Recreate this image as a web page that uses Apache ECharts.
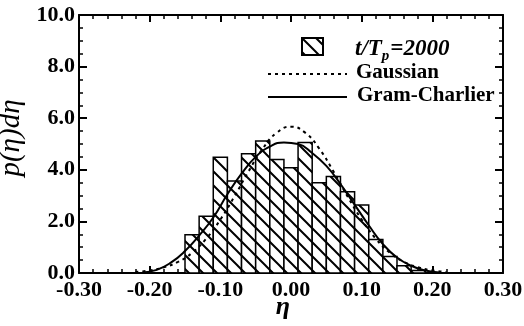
<!DOCTYPE html>
<html>
<head>
<meta charset="utf-8">
<script src="https://cdn.jsdelivr.net/npm/echarts@6/dist/echarts.min.js"></script>
<style>
  html, body { margin: 0; padding: 0; background: #fff; }
  #chart { width: 524px; height: 326px; }
</style>
</head>
<body>
<div id="chart"></div>
<script>
// histogram bins (eta edges) and heights
const binEdges = [-0.15, -0.13, -0.11, -0.09, -0.07, -0.05, -0.03, -0.01, 0.01, 0.03, 0.05, 0.07, 0.09, 0.11, 0.13, 0.15, 0.17, 0.19]
const binHeights = [1.48, 2.20, 4.49, 3.57, 4.62, 5.12, 4.40, 4.08, 5.06, 3.50, 3.74, 3.15, 2.64, 1.30, 0.64, 0.28, 0.10]

// Gaussian curve (dotted)
const gaussEta = [-0.22, -0.20, -0.18, -0.16, -0.14, -0.12, -0.10, -0.08, -0.06, -0.04, -0.02, 0.00, 0.02, 0.04, 0.06, 0.08, 0.10, 0.12, 0.14, 0.16, 0.18, 0.20, 0.22]
const gaussVal = [0.04, 0.10, 0.22, 0.43, 0.78, 1.33, 2.07, 2.97, 3.94, 4.82, 5.44, 5.67, 5.44, 4.82, 3.94, 2.97, 2.07, 1.33, 0.78, 0.43, 0.22, 0.10, 0.04]

// Gram-Charlier curve (solid)
const gcEta = [-0.21, -0.19, -0.17, -0.15, -0.13, -0.11, -0.09, -0.07, -0.05, -0.03, -0.01, 0.01, 0.03, 0.05, 0.07, 0.09, 0.11, 0.13, 0.15, 0.17, 0.19, 0.21]
const gcVal = [0.02, 0.12, 0.40, 0.85, 1.45, 2.15, 3.05, 3.85, 4.50, 4.90, 5.06, 5.00, 4.65, 4.15, 3.45, 2.65, 1.85, 1.12, 0.60, 0.28, 0.10, 0.02]

const xTicks = [-0.3, 0.3, 0.1]
const yTicks = [0, 10, 2]

const serif = 'Liberation Serif'

// diagonal hatch tile
function makeHatch() {
  const s = 14
  const c = document.createElement('canvas')
  c.width = s
  c.height = s
  const ctx = c.getContext('2d')
  ctx.fillStyle = '#fff'
  ctx.fillRect(0, 0, s, s)
  ctx.strokeStyle = '#000'
  ctx.lineWidth = 2
  ctx.beginPath()
  ctx.moveTo(-2, -2); ctx.lineTo(s + 2, s + 2)
  ctx.moveTo(s - 2, -2); ctx.lineTo(s + 2, 2)
  ctx.moveTo(-2, s - 2); ctx.lineTo(2, s + 2)
  ctx.stroke()
  return c
}
const hatch = { image: makeHatch(), repeat: 'repeat' }

const histData = binHeights.map((h, i) => [binEdges[i], binEdges[i + 1], h])
const gaussData = gaussEta.map((e, i) => [e, gaussVal[i]])
const gcData = gcEta.map((e, i) => [e, gcVal[i]])

const chart = echarts.init(document.getElementById('chart'))

function xAxisCfg(pos, labels) {
  return {
    type: 'value',
    position: pos,
    min: xTicks[0],
    max: xTicks[1],
    interval: xTicks[2],
    axisLine: { show: true, onZero: false, lineStyle: { color: '#000', width: 2 } },
    axisTick: { show: true, inside: true, length: 7, lineStyle: { color: '#000', width: 2 } },
    minorTick: { show: true, splitNumber: 5, length: 4, lineStyle: { color: '#000', width: 1.5 } },
    splitLine: { show: false },
    axisLabel: {
      show: labels,
      margin: 6,
      color: '#000',
      fontFamily: serif,
      fontWeight: 'bold',
      fontSize: 22,
      formatter: v => v.toFixed(2)
    }
  }
}

function yAxisCfg(pos, labels) {
  return {
    type: 'value',
    position: pos,
    min: yTicks[0],
    max: yTicks[1],
    interval: yTicks[2],
    axisLine: { show: true, onZero: false, lineStyle: { color: '#000', width: 2 } },
    axisTick: { show: true, inside: true, length: 8, lineStyle: { color: '#000', width: 2 } },
    minorTick: { show: true, splitNumber: 4, length: 4, lineStyle: { color: '#000', width: 1.5 } },
    splitLine: { show: false },
    axisLabel: {
      show: labels,
      margin: 4,
      color: '#000',
      fontFamily: serif,
      fontWeight: 'bold',
      fontSize: 22,
      formatter: v => v.toFixed(1)
    }
  }
}

const yLeft = yAxisCfg('left', true)
yLeft.name = 'p(η)dη'
yLeft.nameLocation = 'middle'
yLeft.nameGap = 40
yLeft.nameTextStyle = { color: '#000', fontFamily: serif, fontStyle: 'italic', fontSize: 29, padding: [0, 0, 0, 12] }

const option = {
  animation: false,
  backgroundColor: '#fff',
  grid: { left: 79, right: 21, top: 15, bottom: 53, containLabel: false, outerBoundsMode: 'none' },
  xAxis: [xAxisCfg('bottom', true), xAxisCfg('top', false)],
  yAxis: [yLeft, yAxisCfg('right', false)],
  graphic: [
    // x axis title
    { type: 'text', x: 283, y: 294,
      style: { text: 'η', align: 'center', fontFamily: serif, fontStyle: 'italic', fontWeight: 'bold', fontSize: 26, fill: '#000' } },
    // legend
    { type: 'rect', left: 301, top: 37, shape: { width: 21, height: 17 },
      style: { fill: hatch, stroke: '#000', lineWidth: 2 } },
    { type: 'text', left: 355, top: 38,
      style: {
        text: '{i|t/T}{s|p}{i|=2000}',
        rich: {
          i: { fontFamily: serif, fontStyle: 'italic', fontWeight: 'bold', fontSize: 23, fill: '#000' },
          s: { fontFamily: serif, fontStyle: 'italic', fontWeight: 'bold', fontSize: 15, fill: '#000', padding: [14, 1, 0, 0] }
        }
      } },
    { type: 'line', shape: { x1: 268, y1: 74, x2: 347, y2: 74 },
      style: { stroke: '#000', lineWidth: 2, lineDash: [3, 4] } },
    { type: 'text', left: 356, top: 62,
      style: { text: 'Gaussian', fontFamily: serif, fontWeight: 'bold', fontSize: 21, fill: '#000' } },
    { type: 'line', shape: { x1: 268, y1: 97, x2: 347, y2: 97 },
      style: { stroke: '#000', lineWidth: 2 } },
    { type: 'text', left: 357, top: 85,
      style: { text: 'Gram-Charlier', fontFamily: serif, fontWeight: 'bold', fontSize: 21, fill: '#000' } }
  ],
  series: [
    {
      name: 't/Tp=2000',
      type: 'custom',
      xAxisIndex: 0,
      yAxisIndex: 0,
      data: histData,
      encode: { x: [0, 1], y: 2 },
      renderItem: function (params, api) {
        const p0 = api.coord([api.value(0), api.value(2)])
        const p1 = api.coord([api.value(1), 0])
        return {
          type: 'rect',
          shape: { x: p0[0], y: p0[1], width: p1[0] - p0[0], height: p1[1] - p0[1] },
          style: { fill: hatch, stroke: '#000', lineWidth: 1.5 }
        }
      },
      z: 1
    },
    {
      name: 'Gaussian',
      type: 'line',
      data: gaussData,
      smooth: true,
      showSymbol: false,
      lineStyle: { color: '#000', width: 2, type: [3, 4] },
      z: 3
    },
    {
      name: 'Gram-Charlier',
      type: 'line',
      data: gcData,
      smooth: true,
      showSymbol: false,
      lineStyle: { color: '#000', width: 2 },
      z: 4
    }
  ]
}

chart.setOption(option)
</script>
</body>
</html>
